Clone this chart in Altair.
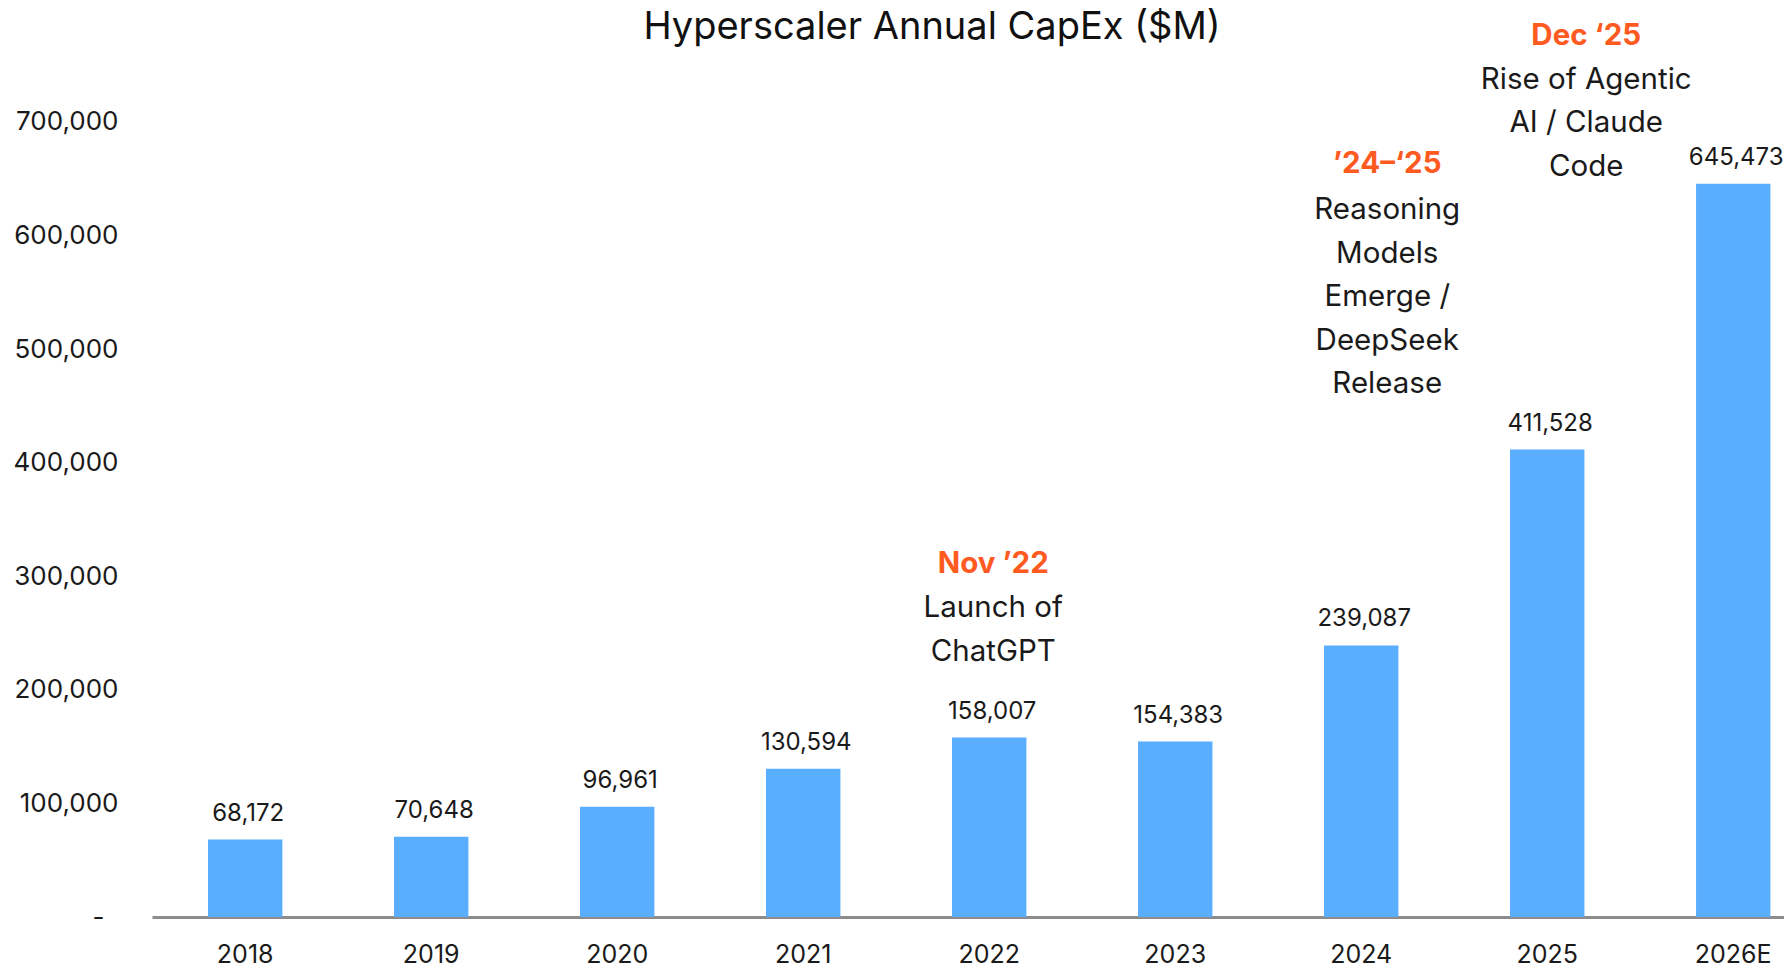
import altair as alt
import pandas as pd

title_text = "Hyperscaler Annual CapEx ($M)"
years = ["2018", "2019", "2020", "2021", "2022", "2023", "2024", "2025", "2026E"]
capex = [68172, 70648, 96961, 130594, 158007, 154383, 239087, 411528, 645473]

ann_years = ["2022", "2024", "2025"]
ann_heads = ["Nov \u201922", "\u201924\u2013\u201825", "Dec \u201825"]
ann_bodies = [
    "Launch of\nChatGPT",
    "Reasoning\nModels\nEmerge /\nDeepSeek\nRelease",
    "Rise of Agentic\nAI / Claude\nCode",
]
ann_head_y = [303000, 655000, 768000]
ann_body_y = [264000, 614000, 729000]
ann_dx = [4, 26, 39]

FONT = "Inter"
BAR = "#5AAEFF"
ORANGE = "#FF5A1F"
INK = "#1a1a1a"

df = pd.DataFrame({"year": years, "capex": capex})

xscale = alt.Scale(domain=years, paddingInner=0.6, paddingOuter=0.187, align=0.805)
yscale = alt.Scale(domain=[0, 750000], nice=False)

x = alt.X("year:N", scale=xscale, sort=years,
          axis=alt.Axis(title=None, labelAngle=0, ticks=False, domain=True,
                        domainColor="#8C8C8C", domainWidth=3,
                        labelFont=FONT, labelFontSize=25, labelColor=INK,
                        labelPadding=25))
y = alt.Y("capex:Q", scale=yscale,
          axis=alt.Axis(title=None, grid=False, ticks=False, domain=False,
                        values=[0, 100000, 200000, 300000, 400000, 500000, 600000, 700000],
                        labelExpr="datum.value == 0 ? '-' : format(datum.value, ',')",
                        labelFont=FONT, labelFontSize=26, labelColor=INK,
                        labelPadding={"condition": {"test": "datum.value == 0", "value": 48}, "value": 34}))

bars = alt.Chart(df).mark_bar(color=BAR).encode(x=x, y=y)
labels = alt.Chart(df).mark_text(
    font=FONT, fontSize=24, color=INK, baseline="middle", dy=-26, dx=3
).encode(x=alt.X("year:N", scale=xscale, sort=years), y=alt.Y("capex:Q", scale=yscale),
         text=alt.Text("capex:Q", format=","))

layers = [bars, labels]
for yr, head, body, hy, by, dx in zip(ann_years, ann_heads, ann_bodies, ann_head_y, ann_body_y, ann_dx):
    adf = pd.DataFrame({"year": [yr], "head": [head], "body": [body], "hy": [hy], "by": [by]})
    layers.append(alt.Chart(adf).mark_text(
        font=FONT, fontSize=29.5, fontWeight=700, color=ORANGE, baseline="alphabetic", dx=dx
    ).encode(x=alt.X("year:N", scale=xscale, sort=years), y=alt.Y("hy:Q", scale=yscale), text="head:N"))
    layers.append(alt.Chart(adf).mark_text(
        font=FONT, fontSize=29.5, color=INK, baseline="alphabetic",
        lineBreak="\n", lineHeight=43.5, dx=dx
    ).encode(x=alt.X("year:N", scale=xscale, sort=years), y=alt.Y("by:Q", scale=yscale), text="body:N"))

title = alt.Chart(pd.DataFrame({"t": [title_text]})).mark_text(
    font=FONT, fontSize=38, color="#111111", baseline="middle", align="center"
).encode(x=alt.value(780), y=alt.value(-37), text="t:N")
layers.append(title)

chart = alt.layer(*layers).properties(
    width=1632, height=852,
    background="white",
    autosize=alt.AutoSizeParams(type="none"),
    padding={"left": 144, "top": 57, "right": 0, "bottom": 50},
).configure_view(strokeWidth=0, stroke="transparent")

chart.save("out.html", embed_options={"renderer": "svg", "actions": False})
